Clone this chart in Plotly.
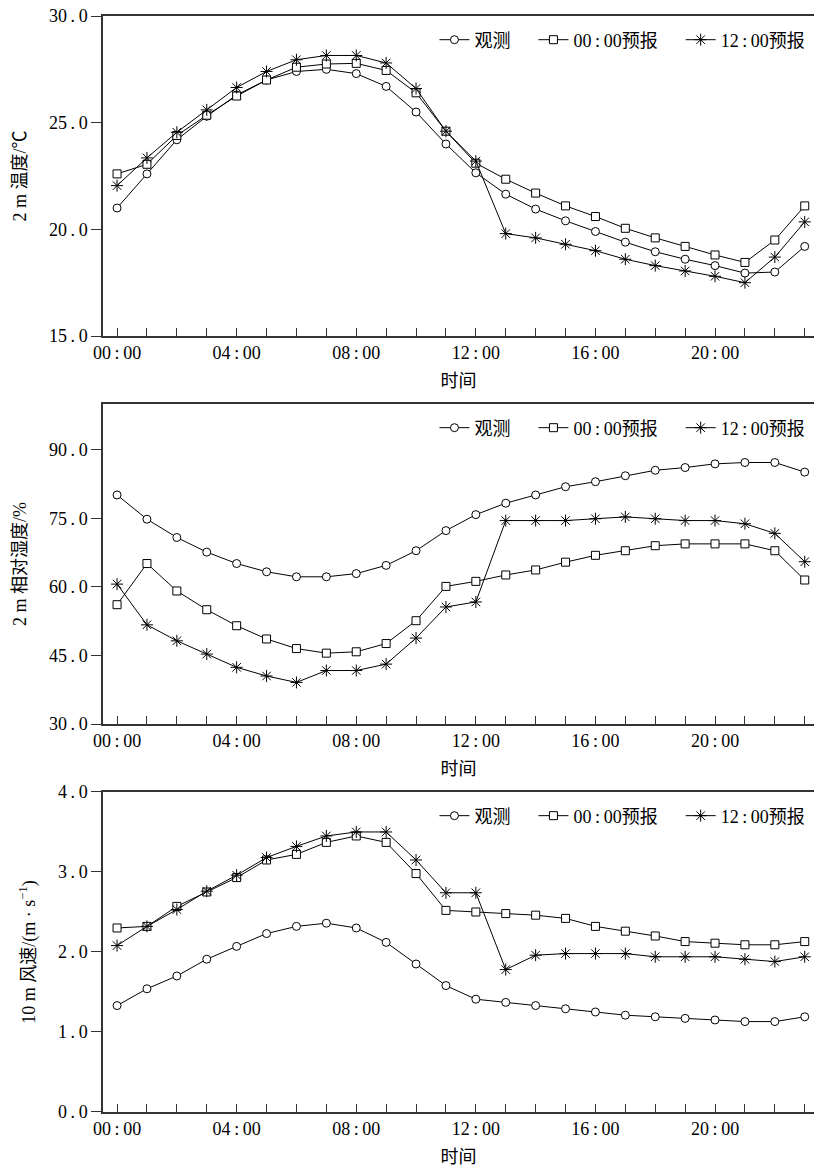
import plotly.graph_objects as go

TS = "\u2009"  # thin space used for typographic spacing in labels

hours = list(range(24))
x_tick_vals = list(range(24))
x_tick_text = [("%02d" % h) + TS + ":" + TS + "00" if h % 4 == 0 else "" for h in hours]

series_names = ["观测", "00" + TS + ":" + TS + "00预报", "12" + TS + ":" + TS + "00预报"]

temp_obs = [21.0, 22.6, 24.2, 25.3, 26.3, 27.0, 27.4, 27.5, 27.3, 26.7, 25.5, 24.0,
            22.65, 21.65, 20.95, 20.4, 19.9, 19.4, 18.95, 18.6, 18.3, 17.95, 18.0, 19.2]
temp_f00 = [22.6, 23.05, 24.4, 25.35, 26.25, 27.0, 27.6, 27.75, 27.78, 27.45, 26.4, 24.6,
            23.1, 22.35, 21.7, 21.1, 20.6, 20.05, 19.6, 19.2, 18.8, 18.45, 19.5, 21.1]
temp_f12 = [22.05, 23.35, 24.55, 25.6, 26.65, 27.4, 27.95, 28.15, 28.15, 27.8, 26.6, 24.6,
            23.2, 19.8, 19.6, 19.3, 19.0, 18.6, 18.3, 18.05, 17.8, 17.5, 18.7, 20.35]

rh_obs = [80.1, 74.8, 70.8, 67.6, 65.1, 63.3, 62.2, 62.2, 62.9, 64.7, 67.9, 72.3,
          75.8, 78.3, 80.1, 81.9, 83.0, 84.3, 85.5, 86.1, 86.9, 87.2, 87.2, 85.1]
rh_f00 = [56.1, 65.1, 59.1, 55.0, 51.5, 48.6, 46.5, 45.5, 45.8, 47.6, 52.6, 60.1,
          61.2, 62.6, 63.7, 65.4, 66.9, 67.9, 69.0, 69.4, 69.4, 69.4, 67.9, 61.5]
rh_f12 = [60.6, 51.7, 48.2, 45.3, 42.4, 40.5, 39.1, 41.7, 41.7, 43.1, 48.8, 55.6,
          56.7, 74.5, 74.5, 74.5, 74.9, 75.3, 74.9, 74.5, 74.5, 73.8, 71.7, 65.5]

ws_obs = [1.33, 1.54, 1.70, 1.91, 2.07, 2.23, 2.32, 2.36, 2.30, 2.12, 1.85, 1.58,
          1.41, 1.37, 1.33, 1.29, 1.25, 1.21, 1.19, 1.17, 1.15, 1.13, 1.13, 1.19]
ws_f00 = [2.30, 2.32, 2.57, 2.75, 2.93, 3.15, 3.22, 3.37, 3.45, 3.37, 2.98, 2.52,
          2.50, 2.48, 2.46, 2.42, 2.32, 2.26, 2.20, 2.13, 2.11, 2.09, 2.09, 2.13]
ws_f12 = [2.08, 2.32, 2.53, 2.76, 2.96, 3.18, 3.32, 3.45, 3.50, 3.50, 3.15, 2.74,
          2.74, 1.78, 1.96, 1.98, 1.98, 1.98, 1.94, 1.94, 1.94, 1.91, 1.88, 1.94]

temp_ticks = [15, 20, 25, 30]
rh_ticks = [30, 45, 60, 75, 90]
ws_ticks = [0, 1, 2, 3, 4]


def fmt(v):
    s = "%.1f" % v
    a, b = s.split(".")
    return a + TS + "." + TS + b


panels = [
    dict(data=[temp_obs, temp_f00, temp_f12], yrange=[15, 30], ytick=temp_ticks,
         ytitle="2 m 温度/℃", domain=[0.708, 1.0]),
    dict(data=[rh_obs, rh_f00, rh_f12], yrange=[30, 100], ytick=rh_ticks,
         ytitle="2 m 相对湿度/%", domain=[0.354, 0.646]),
    dict(data=[ws_obs, ws_f00, ws_f12], yrange=[0, 4], ytick=ws_ticks,
         ytitle="10 m 风速/(m · s<sup>−1</sup>)", domain=[0.0, 0.292]),
]

FONT = "'Liberation Serif', 'Noto Sans CJK SC', serif"
marker_styles = [
    dict(symbol="circle", size=8, color="white", line=dict(color="black", width=1)),
    dict(symbol="square", size=8, color="white", line=dict(color="black", width=1)),
    dict(symbol="asterisk-open", size=10, color="black", line=dict(color="black", width=1)),
]
pad = "\u00a0" * 4
legend_names = [series_names[0] + pad, series_names[1] + pad, series_names[2]]

fig = go.Figure()
layout = dict(
    width=814, height=1172,
    margin=dict(l=103, r=0, t=16, b=60),
    paper_bgcolor="white", plot_bgcolor="white",
    font=dict(family=FONT, size=17, color="black"),
)

for i, p in enumerate(panels):
    n = "" if i == 0 else str(i + 1)
    leg = "legend" if i == 0 else "legend%d" % (i + 1)
    for k in range(3):
        fig.add_trace(go.Scatter(
            x=hours, y=p["data"][k], name=legend_names[k], mode="lines+markers",
            line=dict(color="black", width=1), marker=marker_styles[k],
            xaxis="x" + n, yaxis="y" + n, legend=leg,
        ))
    layout["xaxis" + n] = dict(
        anchor="y" + n, domain=[0, 1], range=[-0.47, 23.31],
        tickmode="array", tickvals=x_tick_vals, ticktext=x_tick_text,
        ticks="inside", ticklen=8, tickwidth=1, tickcolor="#333",
        showline=True, linecolor="#333", linewidth=1.5, mirror=True,
        showgrid=False, zeroline=False,
        tickfont=dict(family=FONT, size=18),
        title=dict(text="时间", font=dict(family=FONT, size=18), standoff=12),
    )
    layout["yaxis" + n] = dict(
        anchor="x" + n, domain=p["domain"], range=p["yrange"],
        tickmode="array", tickvals=p["ytick"], ticktext=[fmt(v) for v in p["ytick"]],
        ticks="outside", ticklen=10, tickwidth=1, tickcolor="#333",
        showline=True, linecolor="#333", linewidth=1.5,
        showgrid=False, zeroline=False,
        tickfont=dict(family=FONT, size=18),
        title=dict(text=p["ytitle"], font=dict(family=FONT, size=18), standoff=18),
    )
    ytop = p["domain"][1] - 24 / 1096
    layout[leg] = dict(
        orientation="h", x=0.995, xanchor="right", y=ytop, yanchor="middle",
        bgcolor="rgba(0,0,0,0)", font=dict(family=FONT, size=18),
    )

fig.update_layout(**layout)
fig.write_html("out.html")
